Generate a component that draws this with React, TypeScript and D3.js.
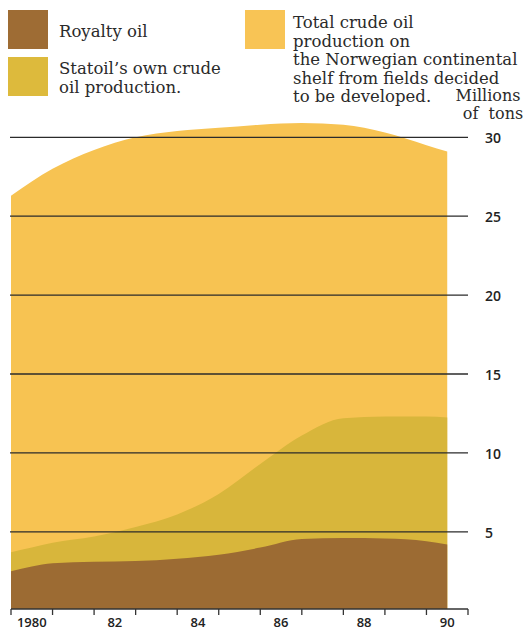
import React from "react";
import * as d3 from "d3";

const years = [1980, 1980.5, 1981, 1982, 1983, 1984, 1985, 1986, 1987, 1988, 1989, 1990, 1990.5];
const totalProduction = [26.3, 27.2, 28.0, 29.2, 30.0, 30.4, 30.6, 30.8, 30.9, 30.8, 30.3, 29.5, 29.1];
const statoilOwn = [3.7, 4.0, 4.3, 4.7, 5.3, 6.1, 7.4, 9.3, 11.1, 12.2, 12.3, 12.3, 12.25];
const royaltyOil = [2.5, 2.8, 3.0, 3.1, 3.15, 3.3, 3.55, 4.0, 4.55, 4.6, 4.57, 4.4, 4.2];

const tickYears = [1980, 1981, 1982, 1983, 1984, 1985, 1986, 1987, 1988, 1989, 1990, 1991];
const labelYears = [1980, 1982, 1984, 1986, 1988, 1990];
const labelTexts = ["1980", "82", "84", "86", "88", "90"];
const yTicks = [5, 10, 15, 20, 25, 30];

const legendLeft = [
  { color: "#9E6C34", lines: ["Royalty oil"] },
  { color: "#DDBA3C", lines: ["Statoil\u2019s own crude", "oil production."] },
];
const legendRight = [
  "Total crude oil",
  "production on",
  "the Norwegian continental",
  "shelf from fields decided",
  "to be developed.",
];

const COLORS = { total: "#F7C352", statoil: "#D8B63B", royalty: "#9C6B33" };

export default function App() {
  const W = 523, H = 631;
  const x = d3.scaleLinear().domain([1980, 1991]).range([11, 468]);
  const y = d3.scaleLinear().domain([0, 30]).range([610.7, 137.3]);
  const serif = "'DejaVu Serif', serif";
  const sans = "'Open Sans', sans-serif";

  const mk = (vals: number[]) =>
    d3
      .area<number>()
      .x((_, i) => x(years[i]))
      .y0(609)
      .y1((d) => y(d))
      .curve(d3.curveMonotoneX)(vals) || "";

  return (
    <svg width={W} height={H} style={{ position: "absolute", left: 0, top: 0, background: "#fff" }}>
      {/* legend */}
      <rect x={8} y={10} width={40} height={39} fill={legendLeft[0].color} />
      <text x={59} y={37} fontFamily={serif} fontSize={16.5} fill="#2a2a2a">{legendLeft[0].lines[0]}</text>
      <rect x={8} y={57} width={40} height={39} fill={legendLeft[1].color} />
      {legendLeft[1].lines.map((t, i) => (
        <text key={t} x={59} y={74 + i * 19} fontFamily={serif} fontSize={16.5} fill="#2a2a2a">{t}</text>
      ))}
      <rect x={245} y={10} width={40} height={39} fill="#F8C455" />
      {legendRight.map((t, i) => (
        <text key={t} x={293} y={28 + i * 18.5} fontFamily={serif} fontSize={16.5} fill="#2a2a2a">{t}</text>
      ))}
      <text x={488} y={101} textAnchor="middle" fontFamily={serif} fontSize={16} fill="#2a2a2a">Millions</text>
      <text x={493} y={119} textAnchor="middle" fontFamily={serif} fontSize={16} fill="#2a2a2a" style={{ whiteSpace: "pre" }}>of  tons</text>

      {/* areas */}
      <path d={mk(totalProduction)} fill={COLORS.total} />
      <path d={mk(statoilOwn)} fill={COLORS.statoil} />
      <path d={mk(royaltyOil)} fill={COLORS.royalty} />

      {/* gridlines */}
      {yTicks.map((v) => (
        <g key={v}>
          <line x1={10} x2={468} y1={y(v)} y2={y(v)} stroke="#2b2b2b" strokeWidth={1.3} />
          <text x={485} y={y(v) + 1} dy="0.35em" fontFamily={sans} fontWeight={600} fontSize={14} fill="#222">{v}</text>
        </g>
      ))}

      {/* x axis */}
      <line x1={x(1980)} x2={x(1991)} y1={609} y2={609} stroke="#333" strokeWidth={1.3} />
      {tickYears.map((t) => (
        <line key={t} x1={x(t)} x2={x(t)} y1={609} y2={615} stroke="#333" strokeWidth={1.3} />
      ))}
      {labelYears.map((t, i) => (
        <text key={t} x={x(t + 0.5)} y={627} textAnchor="middle" fontFamily={sans} fontWeight={600} fontSize={13} fill="#222">{labelTexts[i]}</text>
      ))}
    </svg>
  );
}
